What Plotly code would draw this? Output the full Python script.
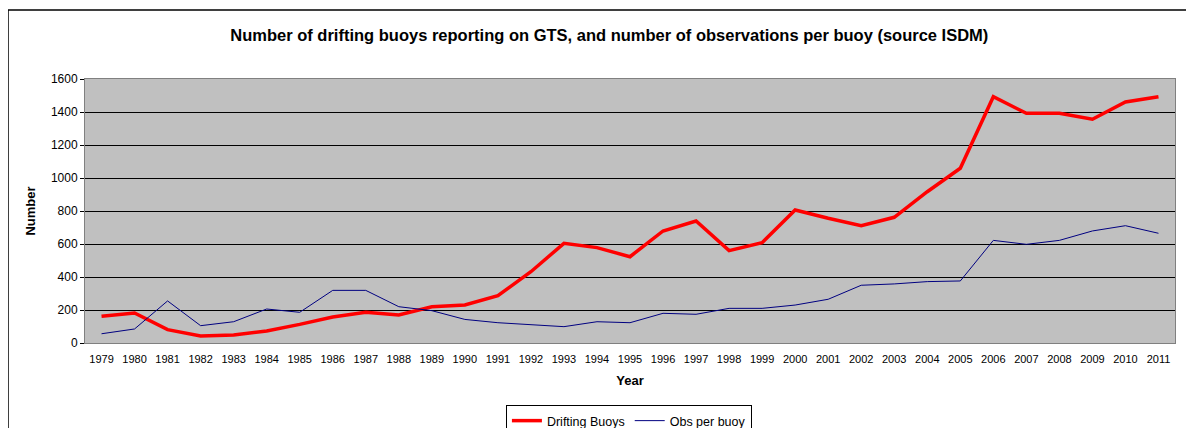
import plotly.graph_objects as go

years = [str(y) for y in range(1979, 2012)]
drifting_buoys = [162, 182, 81, 42, 48, 73, 113, 158, 186, 170, 220, 230, 287, 432, 604,
                  578, 523, 679, 739, 560, 608, 806, 756, 711, 762, 917, 1059, 1493, 1392,
                  1392, 1356, 1461, 1493]
obs_per_buoy = [56, 85, 255, 105, 129, 206, 186, 319, 319, 220, 196, 143, 123, 113, 99,
                129, 123, 180, 174, 210, 210, 230, 265, 350, 358, 372, 376, 622, 598,
                622, 679, 711, 665]
y_ticks = [0, 200, 400, 600, 800, 1000, 1200, 1400, 1600]

FONT = "Liberation Sans, Arial, sans-serif"

# page has an 8px body margin, so the figure is 8px smaller than the window
W, H = 1186, 420

fig = go.Figure()
fig.add_trace(go.Scatter(x=years, y=drifting_buoys, name="Drifting Buoys", mode="lines",
                         line=dict(color="#FF0000", width=3.5)))
fig.add_trace(go.Scatter(x=years, y=obs_per_buoy, name="Obs per buoy", mode="lines",
                         line=dict(color="#000080", width=1)))

fig.update_layout(
    width=W, height=H,
    margin=dict(l=77, r=19, t=71, b=85, autoexpand=False),
    paper_bgcolor="white",
    plot_bgcolor="#C0C0C0",
    font=dict(family=FONT, color="black"),
    title=dict(text="<b>Number of drifting buoys reporting on GTS, and number of observations per buoy (source ISDM)</b>",
               x=0.507, xanchor="center", y=1 - 27 / H, yanchor="middle",
               font=dict(size=16.5, family=FONT, color="black")),
    showlegend=True,
    legend=dict(orientation="h", x=0.499, xanchor="center", y=(343 - 405) / 264, yanchor="top",
                bordercolor="black", borderwidth=1, bgcolor="white",
                font=dict(size=12.5, family=FONT), itemwidth=30,
                tracegroupgap=0),
    xaxis=dict(type="category", range=[-0.5, 32.5], showgrid=False,
               showline=True, linecolor="#808080", linewidth=1, mirror=True,
               ticks="outside", ticklen=6, tickcolor="rgba(0,0,0,0)", tickangle=0,
               tickfont=dict(size=11, family=FONT),
               title=dict(text="<b>Year</b>", font=dict(size=13, family=FONT), standoff=11)),
    yaxis=dict(range=[0, 1600], tickvals=y_ticks, showgrid=True, gridcolor="black", gridwidth=1,
               showline=True, linecolor="#808080", linewidth=1, mirror=True, zeroline=False,
               ticks="outside", ticklen=4, tickcolor="black",
               tickfont=dict(size=12, family=FONT),
               title=dict(text="<b>Number</b>", font=dict(size=13, family=FONT), standoff=12)),
)

# outer chart border
fig.add_shape(type="rect", xref="paper", yref="paper",
              x0=(8 - 85) / 1090, x1=1.1, y0=-0.6, y1=(343 - 10) / 264,
              line=dict(color="black", width=1.5), fillcolor="rgba(0,0,0,0)", layer="below")

fig.write_html("out.html")
